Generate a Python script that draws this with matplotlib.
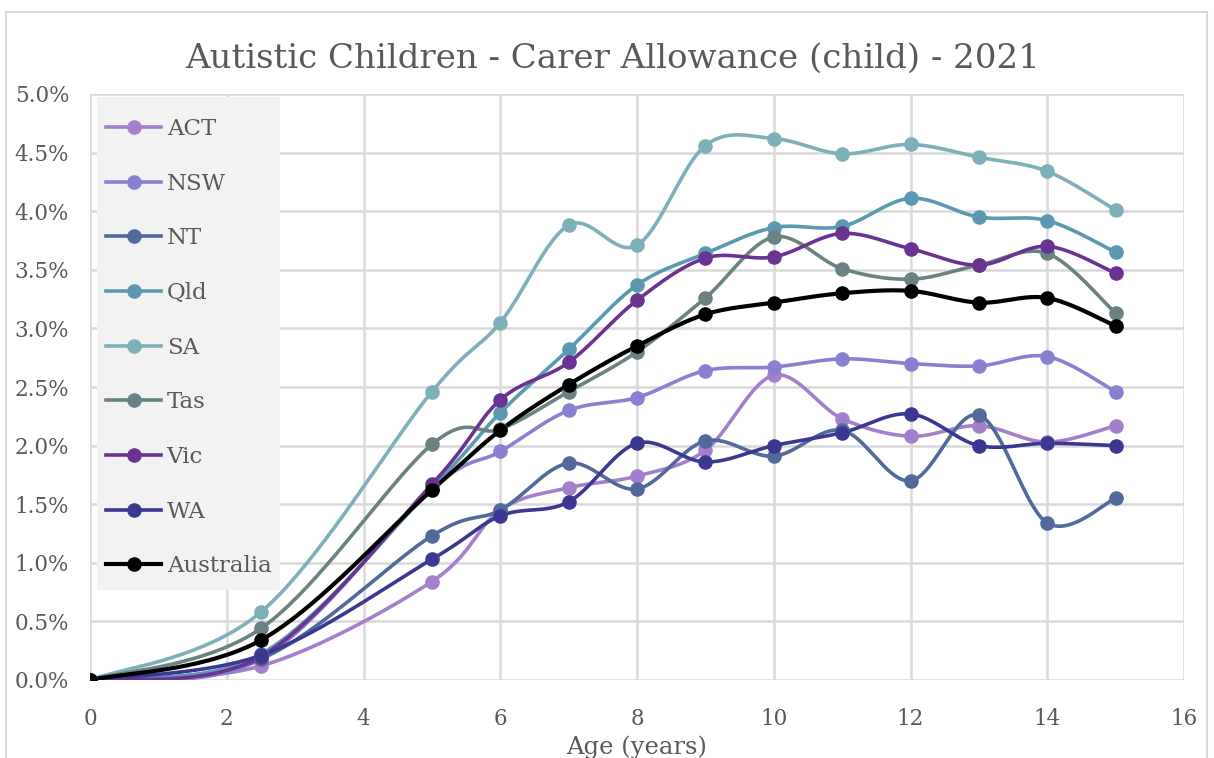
import numpy as np
import matplotlib
matplotlib.use("Agg")
import matplotlib.pyplot as plt
from matplotlib.patches import Rectangle
from matplotlib.ticker import FuncFormatter, MultipleLocator

# Age points (years) and share of children receiving Carer Allowance (%)
ages = [0, 2.5, 5, 6, 7, 8, 9, 10, 11, 12, 13, 14, 15]

act = [0, 0.12, 0.84, 1.45, 1.64, 1.74, 1.96, 2.60, 2.23, 2.08, 2.17, 2.03, 2.17]
nsw = [0, 0.18, 1.63, 1.95, 2.30, 2.41, 2.64, 2.67, 2.74, 2.70, 2.68, 2.76, 2.46]
nt = [0, 0.18, 1.23, 1.45, 1.85, 1.63, 2.04, 1.91, 2.13, 1.70, 2.26, 1.34, 1.55]
qld = [0, 0.22, 1.64, 2.28, 2.82, 3.37, 3.64, 3.86, 3.87, 4.11, 3.95, 3.92, 3.65]
sa = [0, 0.58, 2.46, 3.05, 3.88, 3.71, 4.56, 4.62, 4.49, 4.57, 4.46, 4.34, 4.01]
tas = [0, 0.44, 2.01, 2.14, 2.46, 2.80, 3.26, 3.78, 3.51, 3.42, 3.54, 3.64, 3.13]
vic = [0, 0.20, 1.67, 2.39, 2.71, 3.24, 3.60, 3.61, 3.81, 3.68, 3.54, 3.70, 3.47]
wa = [0, 0.21, 1.03, 1.40, 1.52, 2.02, 1.86, 2.00, 2.11, 2.27, 2.00, 2.02, 2.00]
australia = [0, 0.34, 1.62, 2.13, 2.52, 2.85, 3.12, 3.22, 3.30, 3.32, 3.22, 3.26, 3.02]

labels = ["ACT", "NSW", "NT", "Qld", "SA", "Tas", "Vic", "WA", "Australia"]
series = [act, nsw, nt, qld, sa, tas, vic, wa, australia]
colors = ["#a47fcb", "#8a80d2", "#51699b", "#5b98b2", "#7eb0b9",
          "#6b8282", "#6a3391", "#3c3791", "#000000"]

SERIF = ["DejaVu Serif"]
TEXT_GREY = "#595959"
GRID_GREY = "#d9d9d9"


def smooth_curve(x, y, n=40):
    """Bezier smoothing through every point (tangent = neighbour chord / 6)."""
    pts = np.column_stack([np.asarray(x, float), np.asarray(y, float)])
    m = len(pts)
    t = np.linspace(0, 1, n)[:, None]
    out = []
    for i in range(m - 1):
        p0 = pts[max(i - 1, 0)]
        p1 = pts[i]
        p2 = pts[i + 1]
        p3 = pts[min(i + 2, m - 1)]
        c1 = p1 + (p2 - p0) / 6.0
        c2 = p2 - (p3 - p1) / 6.0
        seg = ((1 - t) ** 3) * p1 + 3 * ((1 - t) ** 2) * t * c1 \
            + 3 * (1 - t) * t ** 2 * c2 + t ** 3 * p2
        out.append(seg if i == 0 else seg[1:])
    curve = np.vstack(out)
    return curve[:, 0], curve[:, 1]


W, H = 1214, 758
fig = plt.figure(figsize=(W / 100, H / 100), dpi=100)
fig.patch.set_facecolor("white")

# outer chart border
fig.patches.append(Rectangle((6 / W, -0.01), (1207 - 6) / W, 1 - 12 / H + 0.01,
                             transform=fig.transFigure, fill=False,
                             edgecolor=GRID_GREY, linewidth=1.5))

AX_L, AX_R, AX_T, AX_B = 90, 1184, 94, 680
AX_W, AX_H = AX_R - AX_L, AX_B - AX_T
ax = fig.add_axes([AX_L / W, 1 - AX_B / H, AX_W / W, AX_H / H])

for lab, vals, col in zip(labels, series, colors):
    lw = 3.0 if lab == "Australia" else 2.6
    sx, sy = smooth_curve(ages, vals)
    ax.plot(sx, sy, color=col, linewidth=lw, solid_capstyle="round", zorder=3)
    ax.plot(ages, vals, linestyle="none", marker="o", markersize=10.5,
            color=col, markeredgewidth=0, zorder=4)
    # legend proxy
    ax.plot([], [], color=col, linewidth=lw, marker="o", markersize=10.5,
            markeredgewidth=0, label=lab)

ax.set_xlim(0, 16)
ax.set_ylim(0, 5.0)
ax.xaxis.set_major_locator(MultipleLocator(2))
ax.yaxis.set_major_locator(MultipleLocator(0.5))
ax.yaxis.set_major_formatter(FuncFormatter(lambda v, _: f"{v:.1f}%"))

ax.grid(True, color=GRID_GREY, linewidth=1.8, zorder=0)
ax.set_axisbelow(True)
for sp in ax.spines.values():
    sp.set_visible(False)
ax.tick_params(length=0, labelsize=15.5, labelcolor=TEXT_GREY)
ax.tick_params(axis="y", pad=15)
ax.tick_params(axis="x", pad=20)
for lbl in ax.get_xticklabels() + ax.get_yticklabels():
    lbl.set_family(SERIF)

ax.set_xlabel("Age (years)", fontsize=17.5, color=TEXT_GREY, family=SERIF,
              labelpad=4)

fig.text(0.5 * (185 + 1040) / W, 1 - 59 / H,
         "Autistic Children - Carer Allowance (child) - 2021",
         ha="center", va="center", fontsize=24.5, color=TEXT_GREY, family=SERIF)

# legend panel background
ax.add_patch(Rectangle(((97 - AX_L) / AX_W, 1 - (590 - AX_T) / AX_H),
                       (280 - 97) / AX_W, (590 - 97) / AX_H,
                       transform=ax.transAxes, facecolor="#f2f2f2",
                       edgecolor="none", zorder=4.5, clip_on=False))

leg = ax.legend(loc="upper left",
                bbox_to_anchor=((106 - AX_L) / AX_W, 1 - (118 - AX_T) / AX_H),
                frameon=False, prop={"family": SERIF, "size": 16.5},
                handlelength=2.4, handletextpad=0.25, labelspacing=1.425,
                borderpad=0, borderaxespad=0)
for txt in leg.get_texts():
    txt.set_color(TEXT_GREY)
leg.set_zorder(5)

fig.savefig("out.png", dpi=100, facecolor="white")
